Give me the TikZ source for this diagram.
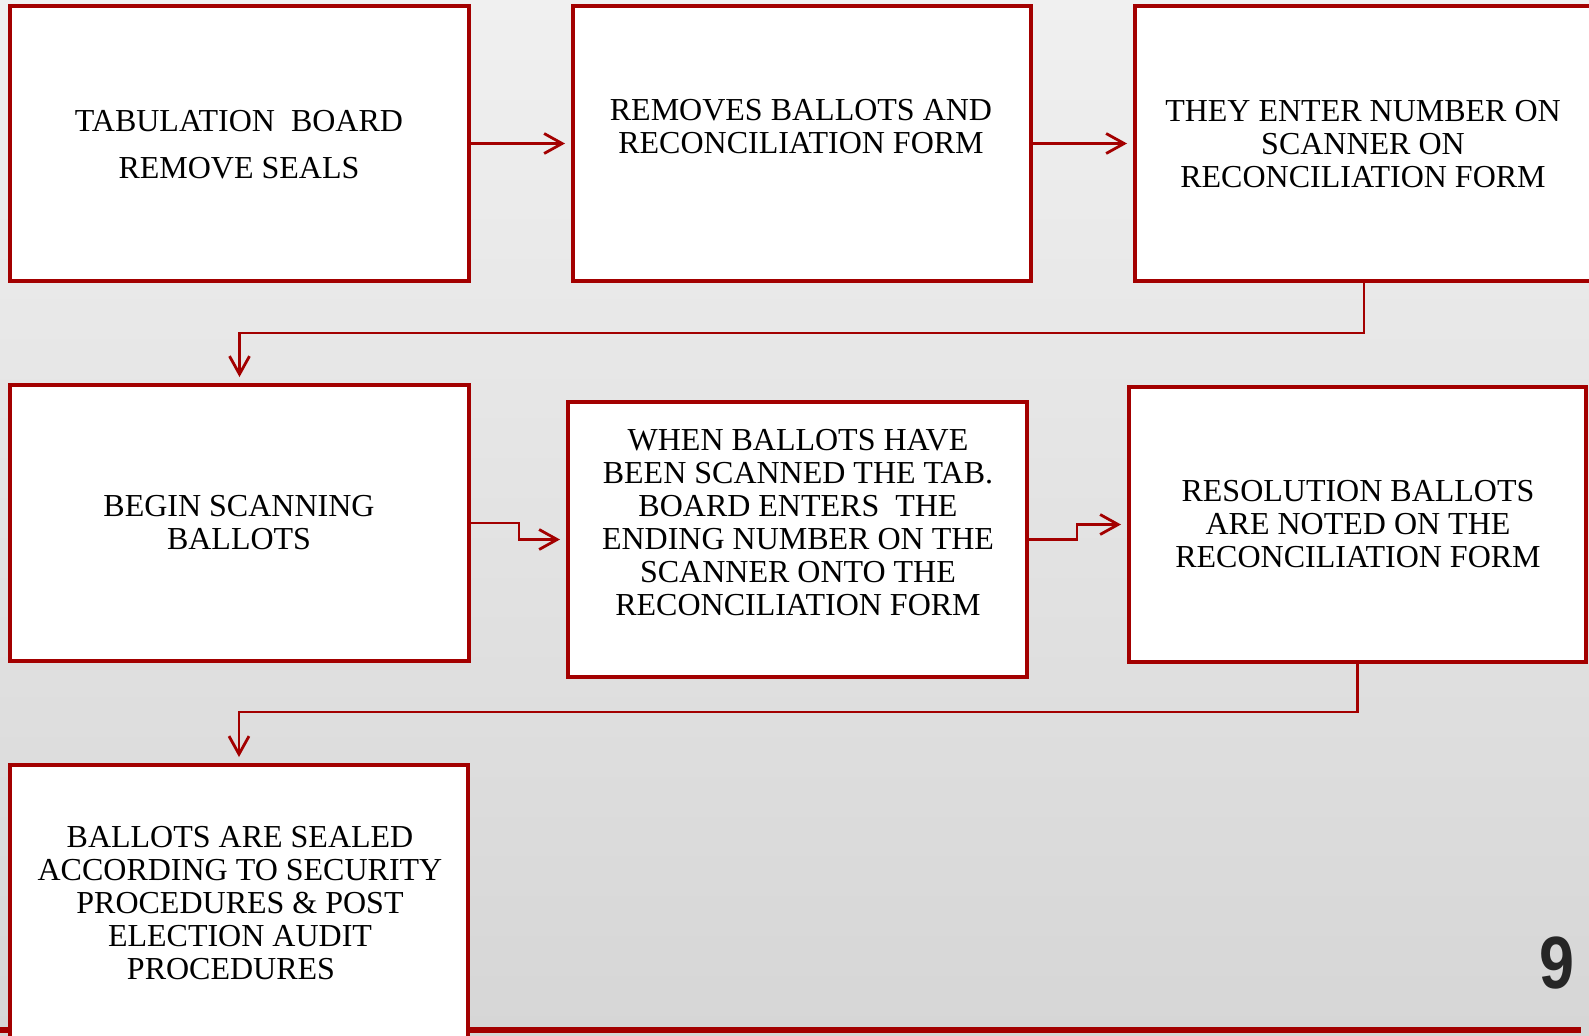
\documentclass[tikz,border=0pt]{standalone}
\usepackage{fontspec}
\setmainfont{Liberation Serif}
\newfontfamily\numfont{Liberation Sans}
\usetikzlibrary{arrows.meta}
\definecolor{boxred}{RGB}{163,0,0}
\definecolor{bgtop}{RGB}{240,240,240}
\definecolor{bgbot}{RGB}{214,214,214}
\definecolor{numgray}{RGB}{38,38,38}

\begin{document}
\begin{tikzpicture}[x=0.5pt, y=-0.5pt,
  stepbox/.style={draw=boxred, line width=2pt, fill=white, anchor=north west,
    inner sep=0pt, outer sep=0pt, minimum height=137.5pt},
  steptext/.style={align=center, font=\fontsize{16}{16.5}\selectfont},
  flow/.style={draw=boxred, line width=1.4pt,
    -{Straight Barb[length=9pt,width=10pt]}, shorten >=4pt}]

\useasboundingbox (0,0) rectangle (1589,1035);
\clip (0,0) rectangle (1589,1035);
\shade[top color=bgtop, bottom color=bgbot] (0,0) rectangle (1589,1035);
\fill[boxred] (0,1027) rectangle (1581,1033);

% boxes
\node[stepbox, minimum width=229.5pt] (b1) at (10,6) {};
\node[stepbox, minimum width=229pt] (b2) at (573,6) {};
\node[stepbox, minimum width=229pt] (b3) at (1135,6) {};
\node[stepbox, minimum width=229.5pt, minimum height=138pt] (b4) at (10,385) {};
\node[stepbox, minimum width=229.5pt] (b5) at (568,402) {};
\node[stepbox, minimum width=228.5pt] (b6) at (1129,387) {};
\node[stepbox, minimum width=229pt, minimum height=150pt] (b7) at (10,765) {};

% connectors
\draw[flow] (b1.east) -- (b2.west);
\draw[flow] (b2.east) -- (b3.west);
\draw[flow] (b3.south) -- ++(0,-26pt) -| (b4.north);
\draw[flow] (b4.east) -- ++(25pt,0) |- (b5.west);
\draw[flow] (b5.east) -- ++(25pt,0) |- (b6.west);
\draw[flow] (b6.south) -- ++(0,-25pt) -| (b7.north);

% texts
\node[steptext] (t1) at (239,145) {TABULATION~~BOARD\\[7pt]REMOVE SEALS};
\node[steptext] (t2) at (801,127) {REMOVES BALLOTS AND\\RECONCILIATION FORM};
\node[steptext] (t3) at (1363,144) {THEY ENTER NUMBER ON\\SCANNER ON\\RECONCILIATION FORM};
\node[steptext] (t4) at (239,523) {BEGIN SCANNING\\BALLOTS};
\node[steptext] (t5) at (798,523) {WHEN BALLOTS HAVE\\BEEN SCANNED THE TAB.\\BOARD ENTERS~~THE\\ENDING NUMBER ON THE\\SCANNER ONTO THE\\RECONCILIATION FORM};
\node[steptext] (t6) at (1358,524) {RESOLUTION BALLOTS\\ARE NOTED ON THE\\RECONCILIATION FORM};
\node[steptext] (t7) at (240,903) {BALLOTS ARE SEALED\\ACCORDING TO SECURITY\\PROCEDURES \& POST\\ELECTION AUDIT\\PROCEDURES\hspace*{9pt}};

\node[font=\numfont\bfseries\fontsize{37}{37}\selectfont, text=numgray, inner sep=0pt] (pagenum) at (1557,963) {\scalebox{0.85}[1]{9}};
\end{tikzpicture}
\end{document}
